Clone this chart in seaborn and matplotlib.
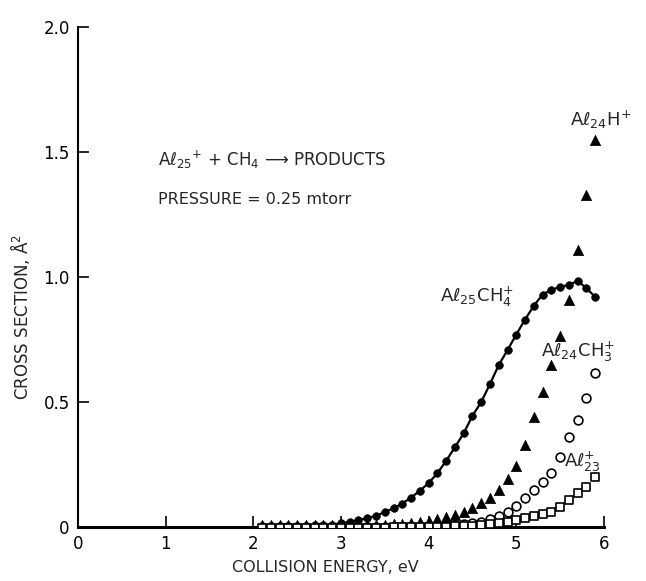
import numpy as np
import pandas as pd
import matplotlib
matplotlib.use("Agg")
import matplotlib.pyplot as plt
import seaborn as sns

# Collision energies (eV) at which the cross sections were measured
energy = [2.1, 2.2, 2.3, 2.4, 2.5, 2.6, 2.7, 2.8, 2.9, 3.0,
          3.1, 3.2, 3.3, 3.4, 3.5, 3.6, 3.7, 3.8, 3.9, 4.0,
          4.1, 4.2, 4.3, 4.4, 4.5, 4.6, 4.7, 4.8, 4.9, 5.0,
          5.1, 5.2, 5.3, 5.4, 5.5, 5.6, 5.7, 5.8, 5.9]

# Cross sections (A^2) for each product ion
al25ch4 = [0.005, 0.005, 0.005, 0.005, 0.006, 0.006, 0.007, 0.008, 0.010, 0.015,
           0.021, 0.028, 0.035, 0.045, 0.060, 0.075, 0.094, 0.118, 0.145, 0.176,
           0.215, 0.265, 0.319, 0.375, 0.445, 0.500, 0.572, 0.648, 0.708, 0.770,
           0.830, 0.885, 0.930, 0.948, 0.961, 0.968, 0.985, 0.955, 0.921]
al24h = [0.009, 0.009, 0.009, 0.009, 0.009, 0.009, 0.009, 0.009, 0.009, 0.009,
         0.009, 0.009, 0.009, 0.009, 0.010, 0.011, 0.012, 0.015, 0.019, 0.024,
         0.031, 0.039, 0.048, 0.061, 0.075, 0.095, 0.117, 0.148, 0.191, 0.244,
         0.328, 0.441, 0.541, 0.648, 0.765, 0.910, 1.110, 1.330, 1.550]
al24ch3 = [0.000, 0.000, 0.000, 0.000, 0.000, 0.000, 0.000, 0.000, 0.000, 0.000,
           0.000, 0.000, 0.000, 0.000, 0.001, 0.001, 0.001, 0.002, 0.002, 0.003,
           0.004, 0.006, 0.008, 0.011, 0.015, 0.021, 0.032, 0.045, 0.061, 0.084,
           0.115, 0.148, 0.181, 0.217, 0.281, 0.361, 0.428, 0.517, 0.615]
al23 = [-0.002, -0.002, -0.002, -0.002, -0.002, -0.002, -0.002, -0.002, -0.002, -0.002,
        -0.002, -0.002, -0.002, -0.002, -0.002, -0.001, -0.001, -0.001, 0.000, 0.000,
        0.001, 0.002, 0.003, 0.004, 0.006, 0.008, 0.011, 0.015, 0.021, 0.028,
        0.035, 0.044, 0.052, 0.061, 0.081, 0.108, 0.135, 0.160, 0.200]

x_ticks = [0, 1, 2, 3, 4, 5, 6]
x_tick_labels = ["0", "1", "2", "3", "4", "5", "6"]
y_ticks = [0, 0.5, 1.0, 1.5, 2.0]
y_tick_labels = ["0", "0.5", "1.0", "1.5", "2.0"]

df = pd.DataFrame({"energy": energy, "al25ch4": al25ch4, "al24h": al24h,
                   "al24ch3": al24ch3, "al23": al23})

sns.set_theme(style="ticks")
plt.rcParams["font.family"] = ["DejaVu Sans"]

fig = plt.figure(figsize=(6.46, 5.81), dpi=100)
ax = fig.add_axes([0.1207, 0.0929, 0.8142, 0.8606])

# Smooth guide line through the adduct data
sns.lineplot(data=df, x="energy", y="al25ch4", ax=ax, color="black",
             linewidth=1.6, zorder=3)

sns.scatterplot(data=df, x="energy", y="al25ch4", ax=ax, marker="o", s=30,
                color="black", edgecolor="black", linewidth=0.5, zorder=4)
sns.scatterplot(data=df, x="energy", y="al24h", ax=ax, marker="^", s=55,
                color="black", edgecolor="black", linewidth=0.5, zorder=4)
sns.scatterplot(data=df, x="energy", y="al24ch3", ax=ax, marker="o", s=40,
                facecolor="white", edgecolor="black", linewidth=1.2, zorder=5)
sns.scatterplot(data=df, x="energy", y="al23", ax=ax, marker="s", s=40,
                facecolor="white", edgecolor="black", linewidth=1.2, zorder=5)

ax.set_xlim(0, 6)
ax.set_ylim(0, 2.0)
ax.set_xticks(x_ticks)
ax.set_xticklabels(x_tick_labels)
ax.set_yticks(y_ticks)
ax.set_yticklabels(y_tick_labels)
ax.tick_params(axis="both", direction="in", length=8, width=1.2,
               labelsize=12, colors="black", pad=6)
for side in ("top", "right"):
    ax.spines[side].set_visible(False)
ax.spines["left"].set_linewidth(1.5)
ax.spines["bottom"].set_linewidth(2.2)
ax.spines["left"].set_color("black")
ax.spines["bottom"].set_color("black")

ax.set_xlabel("COLLISION ENERGY, eV", fontsize=11.5)
ax.xaxis.set_label_coords(0.47, -0.066)
ax.set_ylabel("CROSS SECTION, Å$^2$", fontsize=12)
ax.yaxis.set_label_coords(-0.087, 0.42)

ax.text(0.91, 1.47, "Aℓ$_{25}$$^{+}$ + CH$_4$ ⟶ PRODUCTS", fontsize=12,
        va="center", ha="left")
ax.text(0.91, 1.31, "PRESSURE = 0.25 mtorr", fontsize=11.5,
        va="center", ha="left")

ax.text(5.61, 1.63, "Aℓ$_{24}$H$^{+}$", fontsize=13, va="center", ha="left")
ax.text(4.13, 0.92, "Aℓ$_{25}$CH$_4^{+}$", fontsize=13, va="center", ha="left")
ax.text(5.28, 0.70, "Aℓ$_{24}$CH$_3^{+}$", fontsize=13, va="center", ha="left")
ax.text(5.55, 0.26, "Aℓ$_{23}^{+}$", fontsize=13, va="center", ha="left")

fig.savefig("out.png", dpi=100)
